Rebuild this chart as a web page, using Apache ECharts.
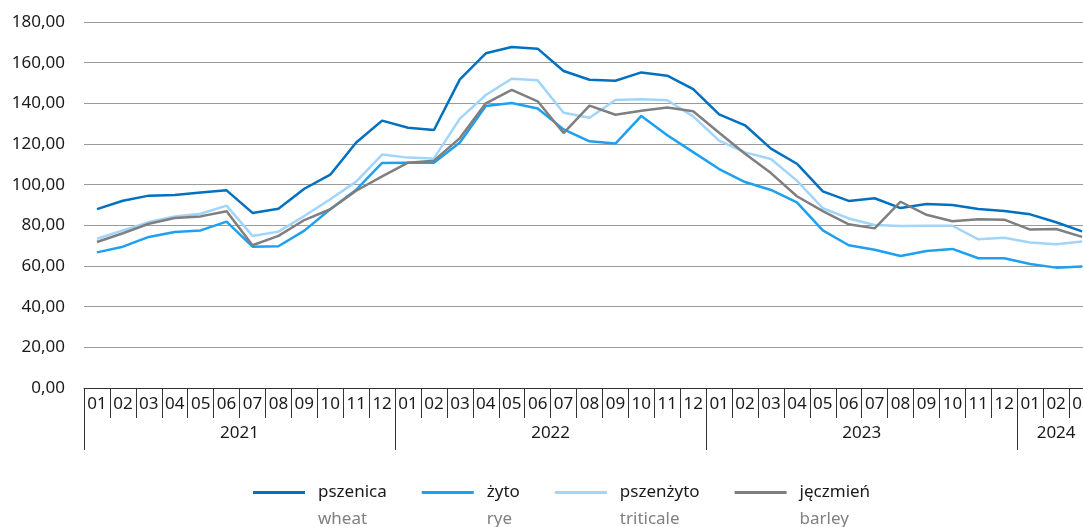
<!DOCTYPE html>
<html>
<head>
<meta charset="utf-8">
<script src="https://cdn.jsdelivr.net/npm/echarts@6/dist/echarts.min.js"></script>
<style>
  html, body { margin: 0; padding: 0; background: #fff; }
  #main { width: 1083px; height: 527px; }
</style>
</head>
<body>
<div id="main"></div>
<script>
var myChart = echarts.init(document.getElementById('main'));

// miesiace 2021-01 .. 2024-03
var months = [
  '01','02','03','04','05','06','07','08','09','10','11','12',
  '01','02','03','04','05','06','07','08','09','10','11','12',
  '01','02','03','04','05','06','07','08','09','10','11','12',
  '01','02','03'
];
var years = ['2021', '2022', '2023', '2024'];
var yearStart = [0, 12, 24, 36];   // boundaries (in months)
var yearMid = [6, 18, 30, 37.5];   // label positions

var names = ['pszenica', 'żyto', 'pszenżyto', 'jęczmień'];
var namesEn = ['wheat', 'rye', 'triticale', 'barley'];
var colors = ['#0070c0', '#1ea0f0', '#a2d5fa', '#7f7f7f'];

var wheat = [88.0, 92.1, 94.6, 94.9, 96.2, 97.2, 86.1, 88.2, 98.0, 104.9, 120.7, 131.5,
  128.0, 126.9, 151.8, 164.6, 167.7, 166.9, 155.9, 151.6, 151.1, 155.2, 153.6, 147.0,
  134.6, 129.2, 117.7, 110.3, 96.7, 92.0, 93.3, 88.5, 90.5, 90.0, 88.0, 87.0,
  85.4, 81.5, 77.0];
var rye = [66.7, 69.5, 74.3, 76.7, 77.5, 81.8, 69.5, 69.7, 77.4, 87.9, 97.5, 110.7,
  110.8, 110.8, 120.7, 138.7, 140.2, 137.5, 127.2, 121.3, 120.2, 133.8, 124.3, 116.0,
  107.7, 101.3, 97.4, 91.3, 77.5, 70.2, 68.0, 64.9, 67.4, 68.4, 63.8, 63.8,
  61.0, 59.2, 59.8];
var triticale = [73.4, 77.5, 81.6, 84.3, 85.7, 89.7, 74.8, 76.9, 84.6, 92.8, 101.5, 114.8,
  113.3, 112.9, 132.5, 144.1, 152.1, 151.3, 135.4, 132.9, 141.6, 142.0, 141.5, 133.6,
  121.7, 115.9, 112.6, 102.0, 88.4, 83.4, 80.2, 79.7, 79.8, 79.8, 73.1, 73.9,
  71.6, 70.7, 72.1];
var barley = [71.8, 76.1, 80.8, 83.6, 84.4, 86.9, 70.2, 74.8, 82.6, 87.9, 97.0, 104.1,
  110.8, 111.8, 122.9, 140.0, 146.6, 141.0, 125.4, 138.9, 134.4, 136.4, 137.9, 136.1,
  125.5, 115.2, 105.7, 94.3, 87.0, 80.5, 78.5, 91.6, 85.2, 82.0, 83.0, 82.8,
  77.9, 78.2, 74.3];
var allData = [wheat, rye, triticale, barley];

var font = 'Noto Sans';

option = {
  animation: false,
  textStyle: { fontFamily: font },
  legend: {
    left: 248,
    top: 452,
    icon: 'rect',
    itemWidth: 52,
    itemHeight: 3,
    itemGap: 35,
    data: names,
    formatter: function (name) {
      var i = names.indexOf(name);
      return '{s| }\n{a|' + name + '}\n{b|' + namesEn[i] + '}';
    },
    textStyle: {
      fontFamily: font,
      rich: {
        s: { fontSize: 17, lineHeight: 27, padding: [0, 0, 0, 8] },
        a: { fontSize: 17, lineHeight: 27, color: '#1a1a1a', fontFamily: font, padding: [0, 0, 0, 8] },
        b: { fontSize: 17, lineHeight: 27, color: '#808080', fontFamily: font, padding: [0, 0, 0, 8] }
      }
    }
  },
  grid: {
    left: 84,
    top: 22,
    width: 1011,
    height: 366,
    outerBoundsMode: 'none',
    containLabel: false
  },
  xAxis: [
    {
      type: 'category',
      data: months,
      boundaryGap: true,
      axisLine: { show: true, lineStyle: { color: '#333', width: 1 } },
      axisTick: { show: true, interval: 0, length: 30, lineStyle: { color: '#333', width: 1 } },
      axisLabel: { interval: 0, margin: 8, fontSize: 17, color: '#1a1a1a', fontFamily: font },
      splitLine: { show: false }
    },
    {
      type: 'value',
      position: 'bottom',
      min: 0,
      max: 39,
      axisLine: { show: false },
      axisTick: { show: true, customValues: yearStart, length: 62, lineStyle: { color: '#333', width: 1 } },
      axisLabel: {
        customValues: yearMid,
        margin: 37,
        fontSize: 17,
        color: '#1a1a1a',
        fontFamily: font,
        formatter: function (v) {
          return years[yearMid.indexOf(v)];
        }
      },
      splitLine: { show: false }
    }
  ],
  yAxis: {
    type: 'value',
    min: 0,
    max: 180,
    interval: 20,
    axisLine: { show: false },
    axisTick: { show: false },
    axisLabel: {
      margin: 19,
      fontSize: 17,
      color: '#1a1a1a',
      fontFamily: font,
      formatter: function (v) {
        return v.toFixed(2).replace('.', ',');
      }
    },
    splitLine: { lineStyle: { color: '#9a9a9a', width: 1 } }
  },
  series: names.map(function (n, i) {
    return {
      name: n,
      type: 'line',
      xAxisIndex: 0,
      data: allData[i],
      symbol: 'none',
      smooth: false,
      lineStyle: { color: colors[i], width: 2.5 },
      itemStyle: { color: colors[i] }
    };
  })
};

myChart.setOption(option);

window.onresize = function () {
  myChart.resize();
};
</script>
</body>
</html>
